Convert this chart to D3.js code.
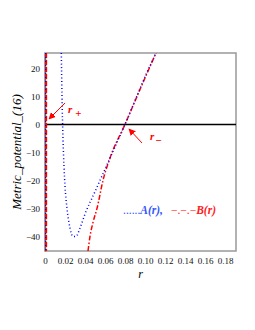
<!DOCTYPE html>
<html>
<head>
<meta charset="utf-8">
<script src="https://cdn.jsdelivr.net/npm/d3@7"></script>
<style>
  body { margin: 0; background: #fff; }
  text { font-family: "Liberation Serif", "DejaVu Serif", serif; }
</style>
</head>
<body>
<div id="chart"></div>
<script>
// values
const rA = [0.0163, 0.017, 0.018, 0.019, 0.020, 0.022, 0.025, 0.028, 0.031, 0.035, 0.040, 0.050, 0.060, 0.070, 0.080, 0.090, 0.100, 0.111]
const A  = [25.5, 10, -5, -15, -22, -30, -37, -40, -40, -37, -32, -24, -16, -8, 0, 8.5, 17, 25.5]
const rB = [0.043, 0.045, 0.048, 0.052, 0.058, 0.065, 0.080, 0.095, 0.111]
const B  = [-45.2, -40, -35, -30, -20, -12, 0, 12.5, 25.5]
// near-vertical branches at the left edge
const rA0 = [0.0004, 0.0004]
const A0 = [25.5, -45.2]
const rB0 = [0.0009, 0.0009]
const B0 = [25.5, -45.2]
const xTicks = [0, 0.02, 0.04, 0.06, 0.08, 0.10, 0.12, 0.14, 0.16, 0.18]
const yTicks = [20, 10, 0, -10, -20, -30, -40]

const W = 255, H = 330
const MARGIN = {TOP: 53, BOTTOM: 79, LEFT: 45, RIGHT: 19}

const svg = d3.select("#chart").append("svg")
  .attr("width", W).attr("height", H)

const x = d3.scaleLinear().domain([0, 0.191]).range([MARGIN.LEFT, W - MARGIN.RIGHT])
const y = d3.scaleLinear().domain([-45.2, 25.5]).range([H - MARGIN.BOTTOM, MARGIN.TOP])

// clip curves to the frame
svg.append("clipPath").attr("id", "clip")
  .append("rect")
  .attr("x", x(0)).attr("y", y(25.5))
  .attr("width", x(0.191) - x(0)).attr("height", y(-45.2) - y(25.5))

// frame
svg.append("rect")
  .attr("x", x(0)).attr("y", y(25.5))
  .attr("width", x(0.191) - x(0)).attr("height", y(-45.2) - y(25.5))
  .attr("fill", "none").attr("stroke", "#999").attr("stroke-width", 1.5)

// axes
const xAxis = svg.append("g")
  .attr("transform", `translate(0, ${y(-45.2)})`)
  .call(d3.axisBottom(x).tickValues(xTicks).tickSize(0).tickPadding(7)
    .tickFormat(d => d === 0 ? "0" : d3.format(".2f")(d)))
const yAxis = svg.append("g")
  .attr("transform", `translate(${x(0)}, 0)`)
  .call(d3.axisLeft(y).tickValues(yTicks).tickSize(0).tickPadding(5)
    .tickFormat(d => d < 0 ? "\u2212" + Math.abs(d) : d))
xAxis.select(".domain").remove()
yAxis.select(".domain").attr("stroke", "#666").attr("stroke-width", 1.5)
svg.selectAll(".tick text")
  .attr("font-family", "Liberation Serif, serif").attr("font-size", 9).attr("fill", "#111")

// zero line
svg.append("line")
  .attr("x1", x(0)).attr("x2", x(0.191))
  .attr("y1", y(0)).attr("y2", y(0))
  .attr("stroke", "#000").attr("stroke-width", 1.5)

const line = d3.line().x(d => x(d[0])).y(d => y(d[1])).curve(d3.curveMonotoneX)
const vline = d3.line().x(d => x(d[0])).y(d => y(d[1]))
const g = svg.append("g").attr("clip-path", "url(#clip)")

g.append("path").datum(d3.zip(rB0, B0)).attr("d", vline)
  .attr("fill", "none").attr("stroke", "#ff0000").attr("stroke-width", 2.5)
  .attr("stroke-dasharray", "5,2")
g.append("path").datum(d3.zip(rA0, A0)).attr("d", vline)
  .attr("fill", "none").attr("stroke", "#0000ff").attr("stroke-width", 1.5)
  .attr("stroke-dasharray", "1,3")
g.append("path").datum(d3.zip(rB, B)).attr("d", line)
  .attr("fill", "none").attr("stroke", "#ff0000").attr("stroke-width", 1.5)
  .attr("stroke-dasharray", "5,2,1.5,2")
g.append("path").datum(d3.zip(rA, A)).attr("d", line)
  .attr("fill", "none").attr("stroke", "#0000ff").attr("stroke-width", 1.5)
  .attr("stroke-dasharray", "1,2.5")

// labels
svg.append("text")
  .attr("transform", `translate(21, ${(y(25.5) + y(-45.2)) / 2}) rotate(-90)`)
  .attr("text-anchor", "middle").attr("font-style", "italic").attr("font-size", 13)
  .text("Metric_potential_(16)")
svg.append("text")
  .attr("x", (x(0) + x(0.191)) / 2).attr("y", 278)
  .attr("text-anchor", "middle").attr("font-style", "italic").attr("font-size", 12)
  .text("r")

// arrows for horizons
svg.append("defs").append("marker")
  .attr("id", "head").attr("viewBox", "0 0 10 10").attr("refX", 9).attr("refY", 5)
  .attr("markerWidth", 7).attr("markerHeight", 7).attr("orient", "auto")
  .append("path").attr("d", "M0,0L10,5L0,10z").attr("fill", "#ff0000")

svg.append("line")
  .attr("x1", 65).attr("y1", 103).attr("x2", 49).attr("y2", 119)
  .attr("stroke", "#ff0000").attr("stroke-width", 1).attr("marker-end", "url(#head)")
svg.append("line")
  .attr("x1", 142).attr("y1", 143).attr("x2", 129).attr("y2", 129)
  .attr("stroke", "#ff0000").attr("stroke-width", 1).attr("marker-end", "url(#head)")

const rp = svg.append("text").attr("x", 68).attr("y", 113)
  .attr("fill", "#ff0000").attr("font-style", "italic").attr("font-weight", "bold").attr("font-size", 11)
rp.append("tspan").text("r")
rp.append("tspan").attr("dx", 3).attr("dy", 4).attr("font-style", "normal").text("+")
const rm = svg.append("text").attr("x", 150).attr("y", 140)
  .attr("fill", "#ff0000").attr("font-style", "italic").attr("font-weight", "bold").attr("font-size", 11)
rm.append("tspan").text("r")
rm.append("tspan").attr("dx", 1).attr("dy", 4).attr("font-style", "normal").text("\u2212")

// legend
const leg = svg.append("text").attr("x", 123).attr("y", 214)
  .attr("font-size", 11.5).attr("font-weight", "bold").attr("font-style", "italic")
leg.append("tspan").attr("fill", "#3355ff").attr("font-weight", "normal").attr("font-style", "normal").text("......")
leg.append("tspan").attr("fill", "#3355ff").text("A(r),")
leg.append("tspan").attr("dx", 8).attr("fill", "#ff2020").attr("font-weight", "normal").attr("font-style", "normal").text("\u2212.\u2212.\u2212")
leg.append("tspan").attr("fill", "#ff2020").text("B(r)")
</script>
</body>
</html>
